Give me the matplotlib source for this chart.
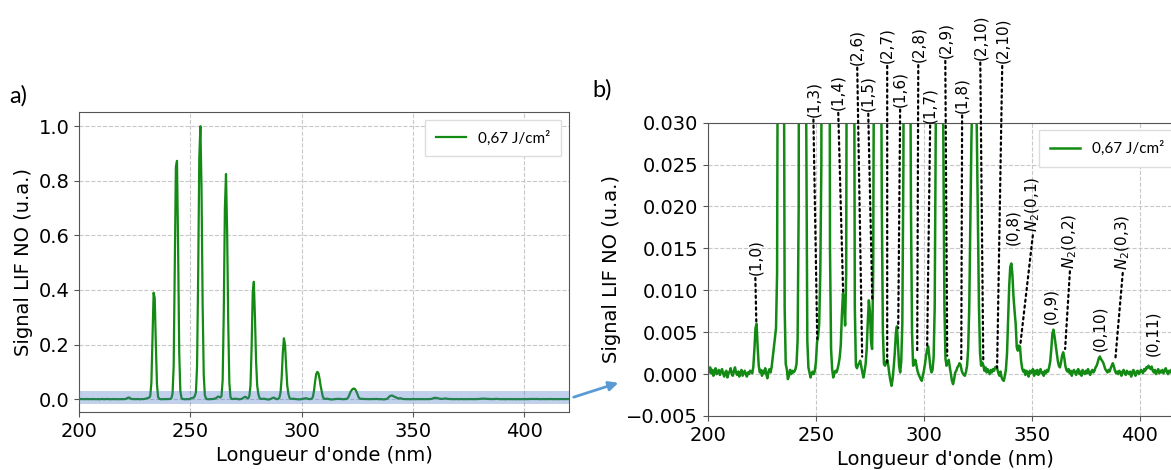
import numpy as np
import matplotlib
matplotlib.use('Agg')
import matplotlib.pyplot as plt

# wavelength grid (nm), 0.5 nm step, and LIF signal
wavelength = np.arange(200.0, 420.5, 0.5)
signal = [
    # 200
    0.0006, 0.0002, 0.0008, 0.0001, 0.0005, -0.0002, 0.0004, 0.0007, 0.0000, 0.0003,
    0.0005, -0.0001, 0.0003, 0.0006, 0.0001, -0.0003, 0.0002, 0.0004, -0.0004, 0.0001,
    0.0003, 0.0007, 0.0000, -0.0002, 0.0004, 0.0008, 0.0002, -0.0001, 0.0003, -0.0003,
    0.0002, 0.0005, -0.0002, 0.0001, 0.0004, 0.0000, -0.0003, 0.0002, 0.0000, 0.0004,
    # 220
    0.0003, 0.0001, 0.0009, 0.0030, 0.0055, 0.0060, 0.0032, 0.0010, 0.0002, 0.0005,
    -0.0002, 0.0004, 0.0001, 0.0007, 0.0000, -0.0005, 0.0003, 0.0006, 0.0002, 0.0009,
    0.0020, 0.0032, 0.0043, 0.0055, 0.012, 0.06, 0.22, 0.39, 0.37, 0.20,
    0.055, 0.008, 0.0012, 0.0006, -0.0006, -0.0002, 0.0005, 0.0000, 0.0004, 0.0002,
    # 240
    0.0003, 0.0006, 0.0012, 0.004, 0.020, 0.12, 0.50, 0.85, 0.873, 0.55,
    0.17, 0.030, 0.004, 0.0008, 0.0002, -0.0004, 0.0001, 0.0003, 0.0000, 0.0004,
    0.0015, 0.0038, 0.0045, 0.006, 0.012, 0.025, 0.12, 0.45, 0.88, 1.0,
    0.78, 0.35, 0.09, 0.015, 0.003, 0.0006, -0.0004, 0.0001, 0.0004, 0.0002,
    # 260
    0.0006, 0.0012, 0.0020, 0.0035, 0.0070, 0.0096, 0.0085, 0.0058, 0.012, 0.07,
    0.32, 0.70, 0.825, 0.62, 0.28, 0.06, 0.008, 0.0010, 0.0007, 0.0011,
    0.0013, 0.0016, 0.0009, 0.0002, -0.0004, 0.0003, 0.0012, 0.0030, 0.0062, 0.0088,
    0.0075, 0.0040, 0.0030, 0.012, 0.05, 0.19, 0.39, 0.43, 0.30, 0.14,
    # 280
    0.05, 0.020, 0.005, 0.0012, 0.0010, 0.0014, 0.0017, 0.0010, 0.0000, -0.0008,
    -0.0014, -0.0006, 0.0008, 0.0025, 0.0048, 0.0057, 0.0035, 0.0010, 0.0002, 0.0015,
    0.006, 0.025, 0.08, 0.17, 0.223, 0.20, 0.12, 0.05, 0.020, 0.005,
    0.0010, 0.0012, 0.0017, 0.0011, 0.0004, 0.0000, -0.0003, -0.0006, -0.0008, -0.0002,
    # 300
    0.0004, 0.0012, 0.0022, 0.0030, 0.0033, 0.0020, 0.0008, 0.0002, 0.0005, 0.0020,
    0.008, 0.030, 0.065, 0.092, 0.100, 0.095, 0.075, 0.048, 0.028, 0.008,
    0.0018, 0.0010, 0.0014, 0.0017, 0.0008, 0.0000, -0.0008, -0.0012, -0.0006, 0.0002,
    0.0004, 0.0008, 0.0010, 0.0013, 0.0011, 0.0004, 0.0001, -0.0001, -0.0002, 0.0003,
    # 320
    0.0010, 0.0030, 0.008, 0.018, 0.028, 0.034, 0.038, 0.039, 0.036, 0.029,
    0.018, 0.008, 0.0025, 0.0010, 0.0014, 0.0011, 0.0004, 0.0008, 0.0002, 0.0006,
    0.0003, 0.0000, 0.0005, 0.0002, 0.0006, 0.0004, 0.0008, 0.0009, 0.0006, 0.0001,
    -0.0002, 0.0003, -0.0004, -0.0007, -0.0008, -0.0002, 0.0006, 0.0025, 0.0065, 0.0105,
    # 340
    0.0128, 0.0132, 0.0118, 0.0092, 0.0075, 0.0060, 0.0032, 0.0028, 0.0034, 0.0033,
    0.0016, 0.0007, 0.0003, 0.0005, -0.0001, 0.0004, 0.0002, -0.0003, 0.0004, 0.0001,
    0.0003, 0.0006, -0.0002, 0.0004, 0.0000, 0.0005, -0.0001, 0.0003, 0.0006, 0.0001,
    0.0002, -0.0002, 0.0004, 0.0001, 0.0005, 0.0003, 0.0008, 0.0015, 0.0030, 0.0048,
    # 360
    0.0053, 0.0045, 0.0035, 0.0025, 0.0016, 0.0010, 0.0008, 0.0014, 0.0022, 0.0026,
    0.0020, 0.0010, 0.0005, 0.0003, 0.0006, 0.0001, 0.0004, -0.0002, 0.0003, 0.0005,
    0.0002, -0.0001, 0.0004, 0.0006, 0.0000, 0.0003, -0.0002, 0.0005, 0.0002, 0.0000,
    0.0004, 0.0001, 0.0006, 0.0002, -0.0001, 0.0003, 0.0005, 0.0002, 0.0004, 0.0008,
    # 380
    0.0010, 0.0014, 0.0019, 0.0021, 0.0018, 0.0016, 0.0014, 0.0010, 0.0006, 0.0004,
    0.0002, 0.0005, 0.0003, 0.0007, 0.0010, 0.0013, 0.0009, 0.0004, 0.0001, 0.0003,
    0.0000, 0.0004, 0.0002, -0.0002, 0.0003, 0.0005, 0.0001, -0.0001, 0.0004, 0.0002,
    0.0000, 0.0003, -0.0003, 0.0002, 0.0005, 0.0001, -0.0002, 0.0003, 0.0004, 0.0000,
    # 400
    0.0002, 0.0005, 0.0003, 0.0001, 0.0006, 0.0004, 0.0008, 0.0007, 0.0010, 0.0008,
    0.0006, 0.0009, 0.0004, 0.0002, 0.0005, 0.0000, 0.0003, 0.0006, 0.0001, 0.0004,
    0.0002, 0.0005, 0.0001, 0.0004, 0.0007, 0.0003, 0.0000, 0.0004, 0.0002, 0.0005,
    0.0003, 0.0001, 0.0005, 0.0002, 0.0006, 0.0003, 0.0000, 0.0004, 0.0002, 0.0003,
    # 420
    0.0003,
]

legend_label = '0,67 J/cm²'

# band labels with dotted leader lines: label, text x, text y, tip x, tip y
lead_labels = ['(1,0)', '(1,3)', '(1,4)', '(2,6)', '(1,5)', '(2,7)', '(1,6)', '(2,8)',
               '(1,7)', '(2,9)', '(1,8)', '(2,10)', '(2,10)',
               '$N_2$(0,1)', '$N_2$(0,2)', '$N_2$(0,3)']
lead_text_x = [221.9, 248.8, 260.3, 269.1, 274.2, 283.0, 289.0, 297.4,
               302.9, 309.9, 317.7, 326.1, 336.3, 350.6, 367.7, 392.2]
lead_text_y = [0.0118, 0.0307, 0.0315, 0.0369, 0.0314, 0.0371, 0.0319, 0.0372,
               0.0300, 0.0377, 0.0312, 0.0375, 0.0371, 0.0169, 0.0126, 0.0124]
lead_tip_x = [222.4, 250.6, 262.6, 271.4, 276.1, 283.0, 288.1, 296.9,
              301.5, 310.8, 317.3, 327.5, 333.9, 344.6, 365.4, 388.6]
lead_tip_y = [0.0060, 0.0042, 0.0096, 0.0021, 0.0088, 0.0014, 0.0055, 0.0028,
              0.0032, 0.0022, 0.0018, 0.0014, 0.00075, 0.0034, 0.0030, 0.0016]

# band labels without leader lines
free_labels = ['(0,8)', '(0,9)', '(0,10)', '(0,11)']
free_x = [341.3, 358.9, 381.6, 406.1]
free_y = [0.0154, 0.0060, 0.0028, 0.0022]

W, H = 1171, 470
line_color = '#138a13'
spine_color = '#555555'


def style_axes(ax):
    ax.grid(True, ls='--', color='#c8c8c8', lw=0.8)
    ax.set_axisbelow(True)
    for s in ax.spines.values():
        s.set_color(spine_color)
    ax.tick_params(labelsize=14, color=spine_color)
    ax.set_xlabel("Longueur d'onde (nm)", fontsize=14)
    ax.set_ylabel('Signal LIF NO (u.a.)', fontsize=14)
    ax.set_xticks([200, 250, 300, 350, 400])


def add_legend(ax):
    ax.legend(loc='upper right', prop={'family': 'Lato', 'size': 11},
              handlelength=2.0, borderpad=0.7, fancybox=False, framealpha=1,
              edgecolor='#dddddd')


fig = plt.figure(figsize=(W / 100, H / 100), dpi=100)

# panel a)
ax1 = fig.add_axes([79 / W, 1 - 412 / H, 490 / W, 300 / H])
ax1.plot(wavelength, signal, color=line_color, lw=1.6, label=legend_label)
ax1.axhspan(-0.017, 0.031, color='#4472c4', alpha=0.33, lw=0, zorder=3)
ax1.set_xlim(200, 420)
ax1.set_ylim(-0.047, 1.052)
ax1.set_yticks([0.0, 0.2, 0.4, 0.6, 0.8, 1.0])
style_axes(ax1)
add_legend(ax1)

# panel b) : zoom on the weak bands, right edge cut by the figure border
ax2 = fig.add_axes([708 / W, 1 - 416 / H, 475 / W, 293.3 / H])
ax2.plot(wavelength, signal, color=line_color, lw=1.8, label=legend_label)
ax2.set_xlim(200, 420)
ax2.set_ylim(-0.005, 0.030)
ax2.set_yticks([-0.005, 0.0, 0.005, 0.010, 0.015, 0.020, 0.025, 0.030])
style_axes(ax2)
add_legend(ax2)

for lab, tx, ty, px, py in zip(lead_labels, lead_text_x, lead_text_y, lead_tip_x, lead_tip_y):
    ax2.annotate(lab, xy=(px, py), xytext=(tx, ty), textcoords='data',
                 rotation=90, ha='center', va='bottom', fontsize=11,
                 annotation_clip=False,
                 arrowprops=dict(arrowstyle='-', color='black', lw=1.6,
                                 linestyle='dotted', relpos=(0.5, 0.0),
                                 shrinkA=0, shrinkB=0))

for lab, tx, ty in zip(free_labels, free_x, free_y):
    ax2.text(tx, ty, lab, rotation=90, ha='center', va='bottom', fontsize=11)

# panel tags and the linking arrow
fig.text(9 / W, 1 - 96 / H, 'a)', family='Lato', fontsize=17, va='center')
fig.text(592 / W, 1 - 90 / H, 'b)', family='Lato', fontsize=17, va='center')
fig.add_artist(matplotlib.patches.FancyArrowPatch(
    (571 / W, 1 - 398 / H), (621 / W, 1 - 382 / H), transform=fig.transFigure,
    arrowstyle='-|>', mutation_scale=14, color='#5b9bd5', lw=2))

fig.savefig('out.png', dpi=100)
